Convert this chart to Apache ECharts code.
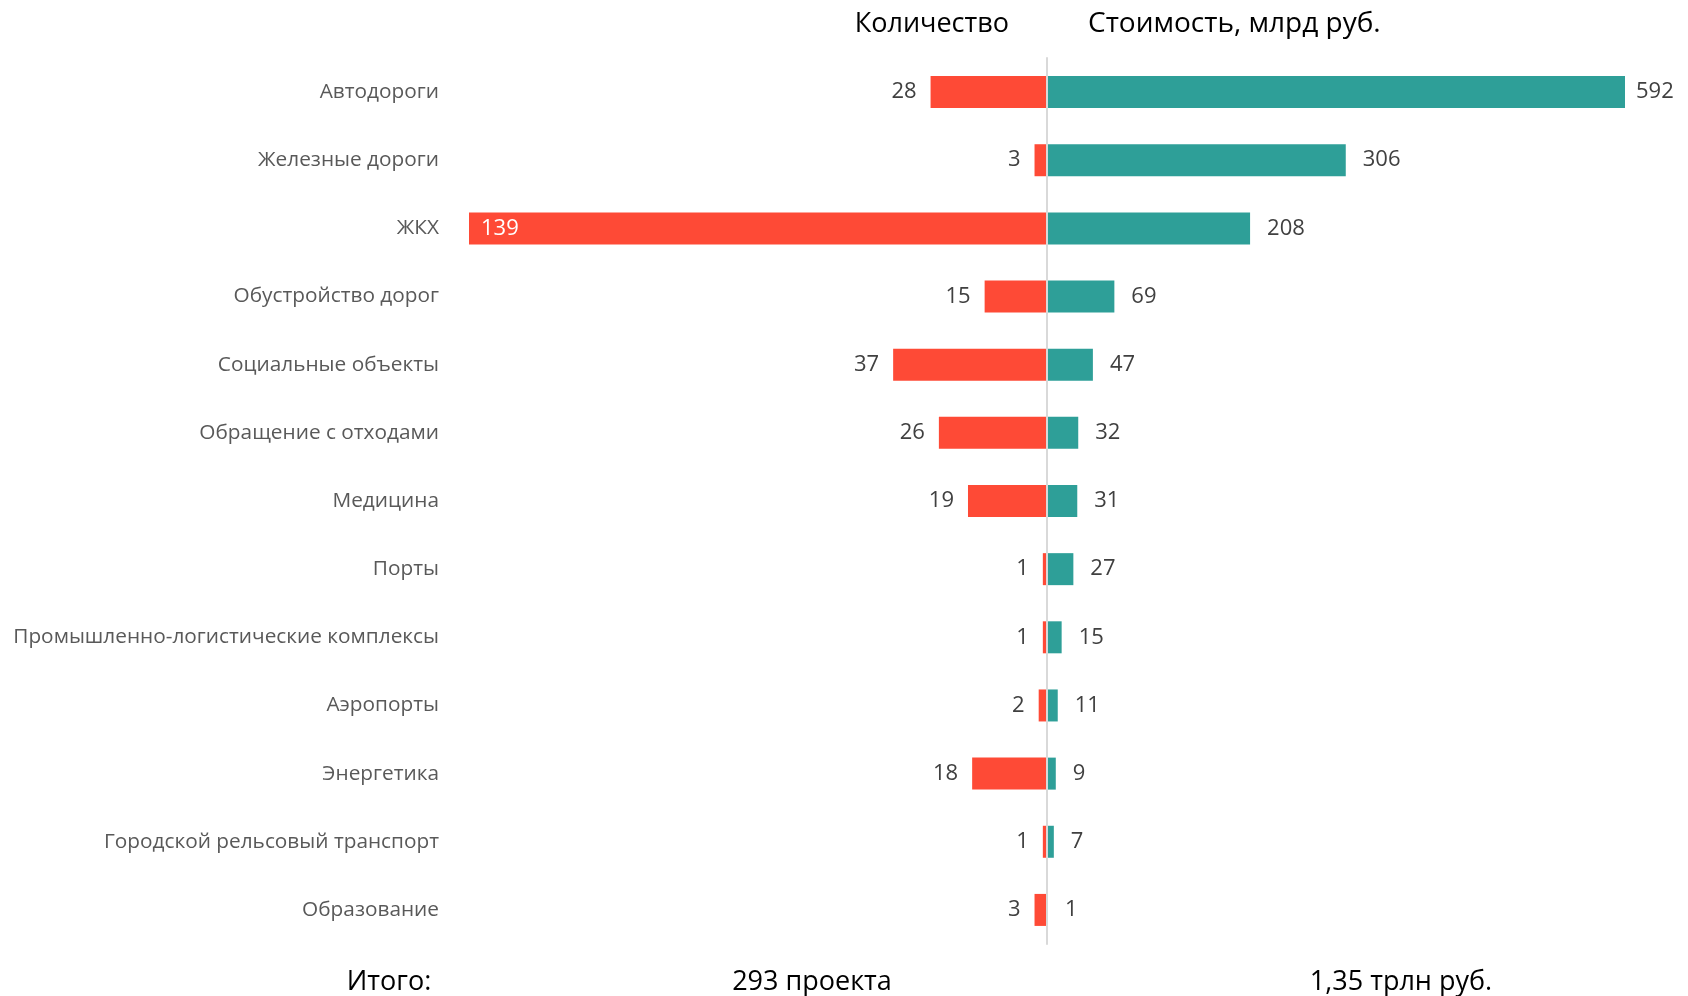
<!DOCTYPE html>
<html><head><meta charset="utf-8">
<script src="https://cdn.jsdelivr.net/npm/echarts@6/dist/echarts.min.js"></script>
<style>html,body{margin:0;padding:0;background:#fff}#c{width:1688px;height:996px}</style>
</head><body><div id="c"></div>
<script>
const categories = ['Автодороги','Железные дороги','ЖКХ','Обустройство дорог','Социальные объекты','Обращение с отходами','Медицина','Порты','Промышленно-логистические комплексы','Аэропорты','Энергетика','Городской рельсовый транспорт','Образование'];
const countValues = [28,3,139,15,37,26,19,1,1,2,18,1,3];
const costValues = [592,306,208,69,47,32,31,27,15,11,9,7,1];
const titleLeft = 'Количество';
const titleRight = 'Стоимость, млрд руб.';
const totalLabel = 'Итого:';
const totalCount = '293 проекта';
const totalCost = '1,35 трлн руб.';

const FONT = 'Open Sans';
const RED = '#FE4A36', TEAL = '#2E9F98';
const chart = echarts.init(document.getElementById('c'));
const maxCount = Math.max(...countValues), maxCost = Math.max(...costValues);
const gTop = 58, gH = 886;
chart.setOption({
  animation: false,
  textStyle: {fontFamily: FONT},
  grid: [
    {left: 469, width: 578, top: gTop, height: gH},
    {left: 1047, width: 578, top: gTop, height: gH}
  ],
  xAxis: [
    {gridIndex: 0, type: 'value', inverse: true, min: 0, max: maxCount, show: false, splitLine: {show: false}},
    {gridIndex: 1, type: 'value', min: 0, max: maxCost, show: false, splitLine: {show: false}}
  ],
  yAxis: [
    {gridIndex: 0, type: 'category', data: categories, inverse: true, position: 'left',
     axisLine: {show: false, onZero: false}, axisTick: {show: false},
     axisLabel: {margin: 30, color: '#595959', fontSize: 20.8, fontFamily: FONT}},
    {gridIndex: 1, type: 'category', data: categories, inverse: true, position: 'left',
     axisLine: {show: true, onZero: false, lineStyle: {color: '#d9d9d9', width: 2}}, axisTick: {show: false},
     axisLabel: {show: false}, z: 5}
  ],
  series: [
    {type: 'bar', xAxisIndex: 0, yAxisIndex: 0, barWidth: 32, itemStyle: {color: RED},
     data: countValues.map(v => ({value: v, label: v === maxCount ? {position: 'insideLeft', color: '#fff', distance: 12} : {}})),
     label: {show: true, position: 'left', distance: 14, color: '#404040', fontSize: 22, fontFamily: FONT}},
    {type: 'bar', xAxisIndex: 1, yAxisIndex: 1, barWidth: 32, itemStyle: {color: TEAL},
     data: costValues.map(v => ({value: v, label: v === maxCost ? {distance: 11} : {}})),
     label: {show: true, position: 'right', distance: 17, color: '#404040', fontSize: 22, fontFamily: FONT}}
  ],
  graphic: [
    {type: 'text', x: 1009, y: 24, style: {text: titleLeft, fontSize: 27, fontFamily: FONT, fill: '#000', align: 'right', verticalAlign: 'middle'}},
    {type: 'text', x: 1088, y: 24, style: {text: titleRight, fontSize: 28, fontFamily: FONT, fill: '#000', align: 'left', verticalAlign: 'middle'}},
    {type: 'text', x: 389, y: 982, style: {text: totalLabel, fontSize: 27, fontFamily: FONT, fill: '#000', align: 'center', verticalAlign: 'middle'}},
    {type: 'text', x: 812, y: 982, style: {text: totalCount, fontSize: 27, fontFamily: FONT, fill: '#000', align: 'center', verticalAlign: 'middle'}},
    {type: 'text', x: 1401, y: 982, style: {text: totalCost, fontSize: 27, fontFamily: FONT, fill: '#000', align: 'center', verticalAlign: 'middle'}}
  ]
});
</script></body></html>
